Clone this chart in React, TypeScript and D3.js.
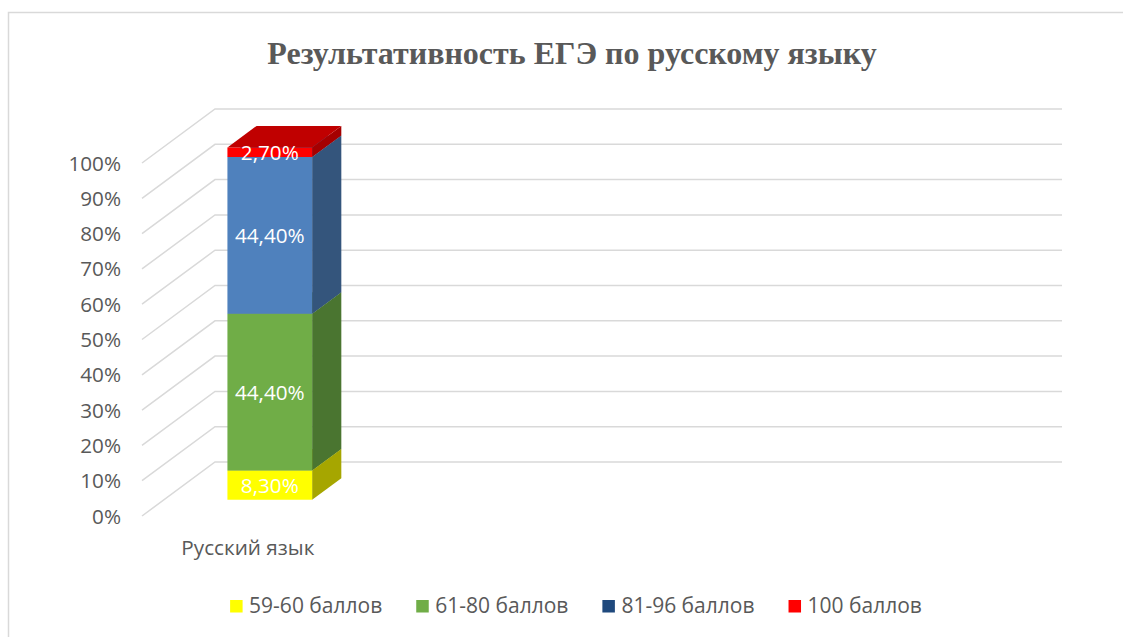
import React, { useEffect, useRef } from 'react';
import * as d3 from 'd3';

// Excel chart with 4 category slots, only the first one filled
const categories = ['Русский язык', '', '', ''];
const seriesNames = ['59-60 баллов', '61-80 баллов', '81-96 баллов', '100 баллов'];
const seriesValues = [8.3, 44.4, 44.4, 2.7];
const valueLabels = ['8,30%', '44,40%', '44,40%', '2,70%'];

const frontColors = ['#FFFF00', '#70AD47', '#4F81BD', '#FF0000'];
const sideColors = ['#A6A600', '#4A7530', '#34557C', '#A50000'];
const topColors = ['#CCCC00', '#5A8C3A', '#3F6A9E', '#C00000'];
const legendColors = ['#FFFF00', '#70AD47', '#1F497D', '#FF0000'];

const W = 1123;
const H = 637;
const FONT = "'Open Sans', 'Liberation Sans', sans-serif";

const App: React.FC = () => {
  const svgRef = useRef<SVGSVGElement>(null);

  useEffect(() => {
    if (!svgRef.current) return;
    const svg = d3.select(svgRef.current);
    svg.selectAll('*').remove();

    // 3D box: front plane + depth offset
    const DX = 73;
    const DY = 54;
    const x = d3.scaleBand<string>()
      .domain(categories.map((_, i) => String(i)))
      .range([142, 989])
      .paddingInner(0.6)
      .paddingOuter(0.3);
    const y = d3.scaleLinear().domain([0, 100]).range([516, 163]);
    const P = (xf: number, v: number, d: number): [number, number] => [xf + d * DX, y(v) - d * DY];

    // chart border
    svg.append('rect')
      .attr('x', 8.5).attr('y', 12.5)
      .attr('width', 1300).attr('height', 700)
      .attr('fill', 'none').attr('stroke', '#d9d9d9').attr('stroke-width', 1.5);

    // title
    svg.append('text')
      .attr('x', 572).attr('y', 64)
      .attr('text-anchor', 'middle')
      .style('font-family', "'Liberation Serif', 'Times New Roman', serif")
      .style('font-weight', 'bold')
      .style('font-size', '32px')
      .style('fill', '#595959')
      .text('Результативность ЕГЭ по русскому языку');

    // gridlines (side wall + back wall)
    const ticks = y.ticks(10);
    const line = d3.line();
    svg.append('g').selectAll('path')
      .data(ticks)
      .enter()
      .append('path')
      .attr('d', t => line([P(142, t, 0), P(142, t, 1), P(989, t, 1)]))
      .attr('fill', 'none')
      .attr('stroke', '#d9d9d9')
      .attr('stroke-width', 1.5);

    // y labels
    svg.append('g').selectAll('text')
      .data(ticks)
      .enter()
      .append('text')
      .attr('x', 121)
      .attr('y', t => y(t) + 7.5)
      .attr('text-anchor', 'end')
      .style('font-family', FONT)
      .style('font-size', '20.7px')
      .style('fill', '#595959')
      .text(t => `${t}%`);

    // category labels
    svg.append('g').selectAll('text')
      .data(categories)
      .enter()
      .append('text')
      .attr('x', (_, i) => (x(String(i)) as number) + x.bandwidth() / 2)
      .attr('y', 555)
      .attr('text-anchor', 'middle')
      .style('font-family', FONT)
      .style('font-size', '20.7px')
      .style('fill', '#595959')
      .text(d => d);

    // stacked 3D bar
    const row: any = { cat: '0' };
    seriesNames.forEach((s, i) => { row[s] = seriesValues[i]; });
    const stacked = d3.stack<any>().keys(seriesNames)([row]);
    const d0 = 0.3;
    const d1 = 0.7;
    const bars = svg.append('g');
    stacked.forEach((layer, si) => {
      const seg = layer[0];
      const v0 = seg[0];
      const v1 = seg[1];
      const xa = x(row.cat) as number;
      const xb = xa + x.bandwidth();
      const poly = (pts: [number, number][]) => pts.map(p => p.join(',')).join(' ');
      bars.append('polygon')
        .attr('points', poly([P(xb, v0, d0), P(xb, v0, d1), P(xb, v1, d1), P(xb, v1, d0)]))
        .attr('fill', sideColors[si]);
      bars.append('polygon')
        .attr('points', poly([P(xa, v0, d0), P(xb, v0, d0), P(xb, v1, d0), P(xa, v1, d0)]))
        .attr('fill', frontColors[si]);
      bars.append('polygon')
        .attr('points', poly([P(xa, v1, d0), P(xb, v1, d0), P(xb, v1, d1), P(xa, v1, d1)]))
        .attr('fill', topColors[si]);
    });
    // data labels on front faces
    stacked.forEach((layer, si) => {
      const seg = layer[0];
      const xa = x(row.cat) as number;
      const [cx, cy] = P(xa + x.bandwidth() / 2, (seg[0] + seg[1]) / 2, d0);
      bars.append('text')
        .attr('x', cx)
        .attr('y', cy + 7.5)
        .attr('text-anchor', 'middle')
        .style('font-family', FONT)
        .style('font-size', '20.7px')
        .style('fill', '#ffffff')
        .text(valueLabels[si]);
    });

    // legend, laid out from measured text widths
    const legend = svg.append('g');
    const items = seriesNames.map((name, i) => {
      const g = legend.append('g');
      g.append('rect')
        .attr('x', 0).attr('y', -12.5)
        .attr('width', 12.5).attr('height', 12.5)
        .attr('fill', legendColors[i]);
      const t = g.append('text')
        .attr('x', 19).attr('y', 0)
        .style('font-family', FONT)
        .style('font-size', '21px')
        .style('fill', '#595959')
        .text(name);
      const w = 19 + (t.node() as SVGTextElement).getComputedTextLength();
      return { g, w };
    });
    const gap = 34;
    const total = d3.sum(items, d => d.w) + gap * (items.length - 1);
    let cur = 576 - total / 2;
    items.forEach(it => {
      it.g.attr('transform', `translate(${cur},612.5)`);
      cur += it.w + gap;
    });
  }, []);

  return (
    <div style={{ position: 'absolute', left: 0, top: 0 }}>
      <svg ref={svgRef} width={W} height={H} style={{ display: 'block', background: '#fff' }}></svg>
    </div>
  );
};

export default App;
